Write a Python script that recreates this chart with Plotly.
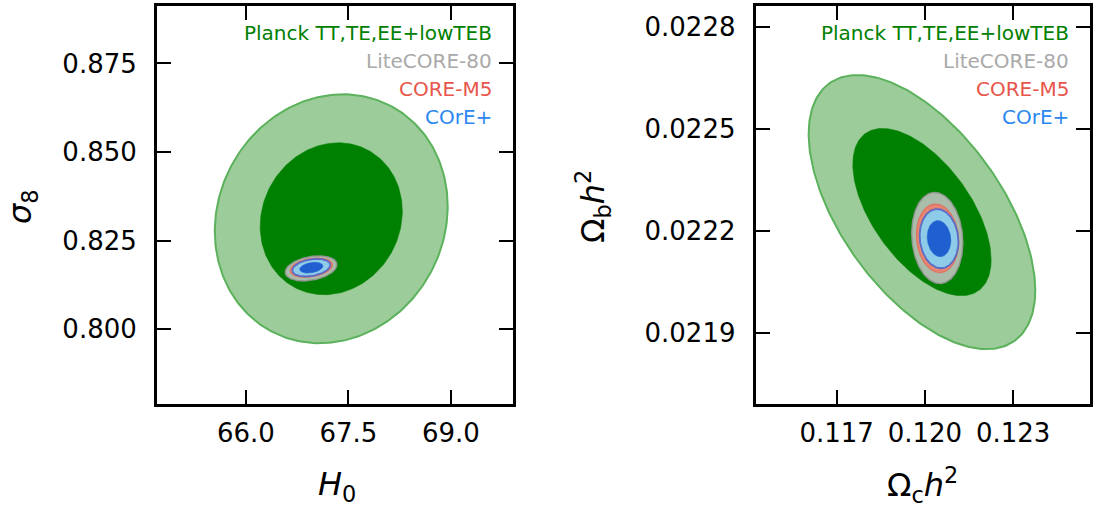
import numpy as np
import plotly.graph_objects as go

# ---------------- data ----------------
EXPERIMENTS = ["Planck TT,TE,EE+lowTEB", "LiteCORE-80", "CORE-M5", "COrE+"]
DCHI2_LEVELS = [6.17, 2.30]          # 95% and 68% two-parameter regions

# Panel 1 : H0 vs sigma8  (means, standard deviations, correlation)
H0_MEAN = [67.25, 66.955, 66.958, 66.958]
S8_MEAN = [0.8312, 0.8172, 0.8174, 0.8174]
H0_SIG = [0.686, 0.152, 0.125, 0.112]
S8_SIG = [0.01413, 0.00142, 0.00110, 0.00100]
RHO_H0_S8 = [0.10, 0.30, 0.30, 0.30]

# Panel 2 : Omega_c h^2 vs Omega_b h^2
OC_MEAN = [0.11990, 0.12042, 0.12043, 0.12048]
OB_MEAN = [0.022256, 0.022180, 0.022179, 0.022178]
OC_SIG = [0.00155, 0.000350, 0.000290, 0.000265]
OB_SIG = [0.000162, 0.0000538, 0.0000405, 0.0000350]
RHO_OC_OB = [-0.57, -0.10, -0.10, -0.10]

# ticks
H0_TICKS = [66.0, 67.5, 69.0]
S8_TICKS = [0.800, 0.825, 0.850, 0.875]
OC_TICKS = [0.117, 0.120, 0.123]
OB_TICKS = [0.0219, 0.0222, 0.0225, 0.0228]

# ---------------- styles ----------------
FILL_OUTER = ["#9bcc99", "rgba(200,200,200,0.85)", "rgba(236,128,108,0.92)", "#8ecbe8"]
FILL_INNER = ["#008000", "rgba(165,165,165,0.85)", "rgba(205,80,80,0.92)", "#1f5fd0"]
LINE_OUTER = ["#5cb25c", "rgba(150,150,150,0.9)", "rgba(225,110,95,0.9)", "rgba(85,105,200,0.95)"]
LINE_W = [2, 1.5, 1.2, 1.8]
TEXT_COL = ["#008000", "#a9a9a9", "#e8554a", "#2a88f0"]


def ellipse(mx, my, sx, sy, rho, k, n=241):
    t = np.linspace(0, 2 * np.pi, n)
    cov = np.array([[sx * sx, rho * sx * sy], [rho * sx * sy, sy * sy]])
    L = np.linalg.cholesky(cov)
    pts = np.sqrt(k) * L @ np.vstack([np.cos(t), np.sin(t)])
    return mx + pts[0], my + pts[1]


fig = go.Figure()

panels = [
    (H0_MEAN, S8_MEAN, H0_SIG, S8_SIG, RHO_H0_S8, "x", "y"),
    (OC_MEAN, OB_MEAN, OC_SIG, OB_SIG, RHO_OC_OB, "x2", "y2"),
]
for mxs, mys, sxs, sys_, rhos, xa, ya in panels:
    for i, name in enumerate(EXPERIMENTS):
        for j, k in enumerate(DCHI2_LEVELS):
            ex, ey = ellipse(mxs[i], mys[i], sxs[i], sys_[i], rhos[i], k)
            outer = j == 0
            fig.add_trace(go.Scatter(
                x=ex, y=ey, mode="lines", fill="toself",
                fillcolor=FILL_OUTER[i] if outer else FILL_INNER[i],
                line=dict(color=LINE_OUTER[i] if outer else FILL_INNER[i],
                          width=LINE_W[i] if outer else 0.5),
                xaxis=xa, yaxis=ya, showlegend=False, hoverinfo="skip",
                name=name,
            ))

W, H = 1094, 509
TICKFONT = dict(family="DejaVu Sans", size=26, color="black")
axis_common = dict(
    showline=True, linecolor="black", linewidth=3, mirror="ticks",
    ticks="inside", ticklen=14, tickwidth=1.5, tickcolor="black",
    showgrid=False, zeroline=False, tickfont=TICKFONT,
)

fig.update_layout(
    width=W, height=H,
    margin=dict(l=0, r=0, t=0, b=0),
    paper_bgcolor="white", plot_bgcolor="white",
    xaxis=dict(domain=[157 / W, 513 / W], range=[64.70, 69.91],
               tickvals=H0_TICKS, ticktext=[f"{v:.1f}" for v in H0_TICKS],
               ticklabelstandoff=4, anchor="y", **axis_common),
    yaxis=dict(domain=[1 - 403.5 / H, 1 - 6 / H], range=[0.7791, 0.8912],
               tickvals=S8_TICKS, ticktext=[f"{v:.3f}" for v in S8_TICKS],
               ticklabelstandoff=12, anchor="x", **axis_common),
    xaxis2=dict(domain=[755.7 / W, 1090 / W], range=[0.11425, 0.12561],
                tickvals=OC_TICKS, ticktext=[f"{v:.3f}" for v in OC_TICKS],
                ticklabelstandoff=4, anchor="y2", **axis_common),
    yaxis2=dict(domain=[1 - 403.5 / H, 1 - 6 / H], range=[0.021694, 0.022861],
                tickvals=OB_TICKS, ticktext=[f"{v:.4f}" for v in OB_TICKS],
                ticklabelstandoff=12, anchor="x2", **axis_common),
)

# legend-style labels (right-aligned text in the top right corner)
LEG_Y = [33, 61.5, 89, 117]
for xr in [494, 1071]:
    for i, name in enumerate(EXPERIMENTS):
        fig.add_annotation(
            x=xr / W, y=1 - LEG_Y[i] / H, xref="paper", yref="paper",
            xanchor="right", yanchor="middle", showarrow=False, text=name,
            font=dict(family="DejaVu Sans", size=20, color=TEXT_COL[i]),
        )

TITLEFONT = dict(family="DejaVu Sans", size=32, color="black")
titles = [
    ("<i>H</i><sub>0</sub>", 337, 486, 0),
    ("<i>σ</i><sub>8</sub>", 22, 207, -90),
    ("Ω<sub>c</sub><i>h</i><sup>2</sup>", 922, 485, 0),
    ("Ω<sub>b</sub><i>h</i><sup>2</sup>", 593, 207, -90),
]
for txt, px, py, ang in titles:
    fig.add_annotation(
        x=px / W, y=1 - py / H, xref="paper", yref="paper",
        xanchor="center", yanchor="middle", showarrow=False, text=txt,
        textangle=ang, font=TITLEFONT,
    )

fig.write_html(
    "out.html",
    config={"responsive": False, "displayModeBar": False},
    post_script=(
        "document.body.style.margin='0';document.body.style.padding='0';"
        "document.documentElement.style.overflow='hidden';"
        "document.body.style.overflow='hidden';"
    ),
)
